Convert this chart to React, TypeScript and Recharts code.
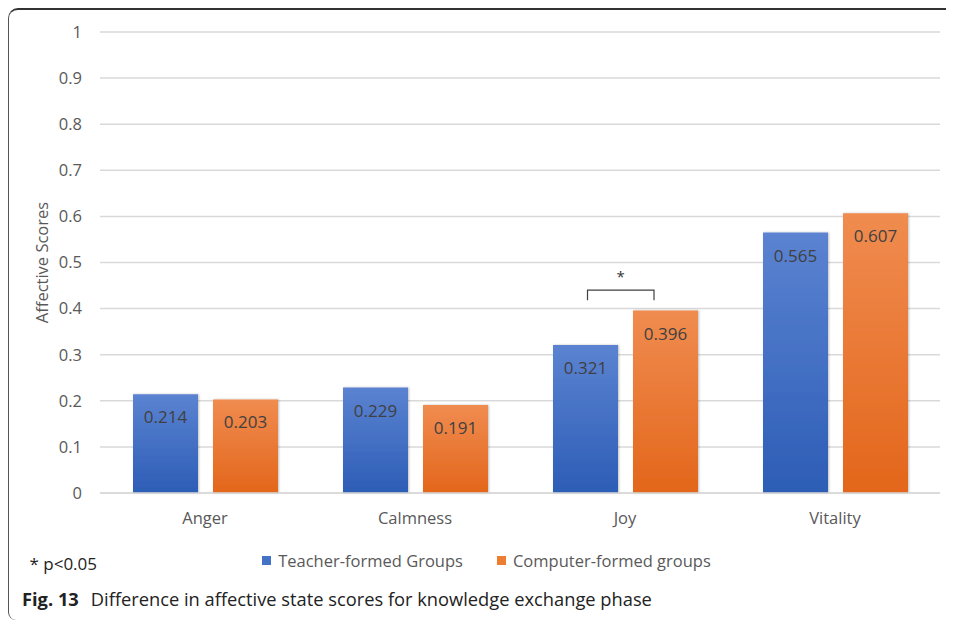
import { BarChart, Bar, XAxis, YAxis, CartesianGrid, Legend, LabelList } from 'recharts'

const categories = ['Anger', 'Calmness', 'Joy', 'Vitality']
const teacherScores = [0.214, 0.229, 0.321, 0.565]
const computerScores = [0.203, 0.191, 0.396, 0.607]
const yTicks = [0, 0.1, 0.2, 0.3, 0.4, 0.5, 0.6, 0.7, 0.8, 0.9, 1]
const significant = ['Joy']
const bracketLevel = 0.44

const data = categories.map((name, i) => ({
  name,
  teacher: teacherScores[i],
  computer: computerScores[i],
}))

const FONT = '"Open Sans", "Noto Sans", sans-serif'

// bracket + star drawn over significant pairs, anchored on the blue bar
function SigBracket(props: any) {
  const { x, y, width, height, value, index } = props
  if (!significant.includes(categories[index])) return null
  const perUnit = Number(height) / Number(value)
  const base = Number(y) + Number(height)
  const by = base - bracketLevel * perUnit
  const x1 = Number(x) + Number(width) / 2 + 2
  const x2 = Number(x) + Number(width) + 36
  return (
    <g>
      <path d={`M${x1},${by + 10} V${by} H${x2} V${by + 10}`} stroke="#404040" strokeWidth={1.2} fill="none" />
      <text x={(x1 + x2) / 2} y={by - 8} textAnchor="middle" fontSize={15} fill="#333" fontFamily={FONT}>
        *
      </text>
    </g>
  )
}

function LegendBox() {
  return (
    <div style={{ position: 'relative', width: 946, height: 24, fontFamily: FONT, fontSize: 16.5, color: '#595959' }}>
      <span style={{ position: 'absolute', left: 22, top: 3, color: '#222', fontSize: 17 }}>* p&lt;0.05</span>
      <div style={{ display: 'flex', justifyContent: 'center', alignItems: 'center', gap: 34, paddingLeft: 12 }}>
        <span style={{ display: 'flex', alignItems: 'center' }}>
          <span style={{ width: 9, height: 9, background: '#4472c4', marginRight: 7 }} />
          Teacher-formed Groups
        </span>
        <span style={{ display: 'flex', alignItems: 'center' }}>
          <span style={{ width: 9, height: 9, background: '#ed7d31', marginRight: 7 }} />
          Computer-formed groups
        </span>
      </div>
    </div>
  )
}

export default function App() {
  return (
    <div
      style={{
        position: 'relative',
        width: 946,
        height: 612,
        borderTop: '2px solid #333',
        borderLeft: '1.5px solid #555',
        borderTopLeftRadius: 10,
        borderBottomLeftRadius: 8,
        boxSizing: 'border-box',
        background: '#fff',
      }}
    >
      <div style={{ position: 'absolute', left: -1.5, top: -2 }}>
        <BarChart
          width={946}
          height={570}
          data={data}
          margin={{ top: 24, right: 14, left: 0, bottom: 55 }}
          barSize={65}
          barGap={15}
        >
          <defs>
            <linearGradient id="blueGrad" x1="0" y1="0" x2="0" y2="1">
              <stop offset="0%" stopColor="#5b83d1" />
              <stop offset="100%" stopColor="#2d5db6" />
            </linearGradient>
            <linearGradient id="orangeGrad" x1="0" y1="0" x2="0" y2="1">
              <stop offset="0%" stopColor="#f08c50" />
              <stop offset="100%" stopColor="#e3661b" />
            </linearGradient>
            <filter id="barShadow" x="-10%" y="-10%" width="120%" height="120%">
              <feDropShadow dx="1" dy="0" stdDeviation="1.2" floodOpacity="0.25" />
            </filter>
          </defs>
          <CartesianGrid vertical={false} stroke="#d9d9d9" strokeWidth={1.5} />
          <XAxis
            dataKey="name"
            height={30}
            tickLine={false}
            tickMargin={13}
            axisLine={{ stroke: '#d9d9d9', strokeWidth: 1.5 }}
            tick={{ fill: '#595959', fontSize: 16.5, fontFamily: FONT }}
          />
          <YAxis
            width={92}
            domain={[0, 1]}
            ticks={yTicks}
            axisLine={false}
            tickLine={false}
            tickMargin={12}
            tick={{ fill: '#595959', fontSize: 16.5, fontFamily: FONT }}
            label={{
              value: 'Affective Scores',
              angle: -90,
              position: 'center',
              dx: -12,
              fill: '#595959',
              fontSize: 16.5,
              fontFamily: FONT,
            }}
          />
          <Legend
            layout="horizontal"
            verticalAlign="middle"
            align="center"
            wrapperStyle={{ top: 541, left: 0, width: 946 }}
            content={() => <LegendBox />}
          />
          <Bar dataKey="teacher" name="Teacher-formed Groups" fill="url(#blueGrad)" filter="url(#barShadow)" isAnimationActive={false}>
            <LabelList dataKey="teacher" position="insideTop" offset={17} fill="#404040" fontSize={17} fontFamily={FONT} />
            <LabelList dataKey="teacher" content={SigBracket} />
          </Bar>
          <Bar dataKey="computer" name="Computer-formed groups" fill="url(#orangeGrad)" filter="url(#barShadow)" isAnimationActive={false}>
            <LabelList dataKey="computer" position="insideTop" offset={17} fill="#404040" fontSize={17} fontFamily={FONT} />
          </Bar>
        </BarChart>
      </div>
      <div
        style={{
          position: 'absolute',
          left: 13,
          top: 576,
          fontFamily: FONT,
          fontSize: 18.3,
          color: '#222',
          whiteSpace: 'nowrap',
        }}
      >
        <b style={{ marginRight: 12 }}>Fig. 13</b>
        Difference in affective state scores for knowledge exchange phase
      </div>
    </div>
  )
}
